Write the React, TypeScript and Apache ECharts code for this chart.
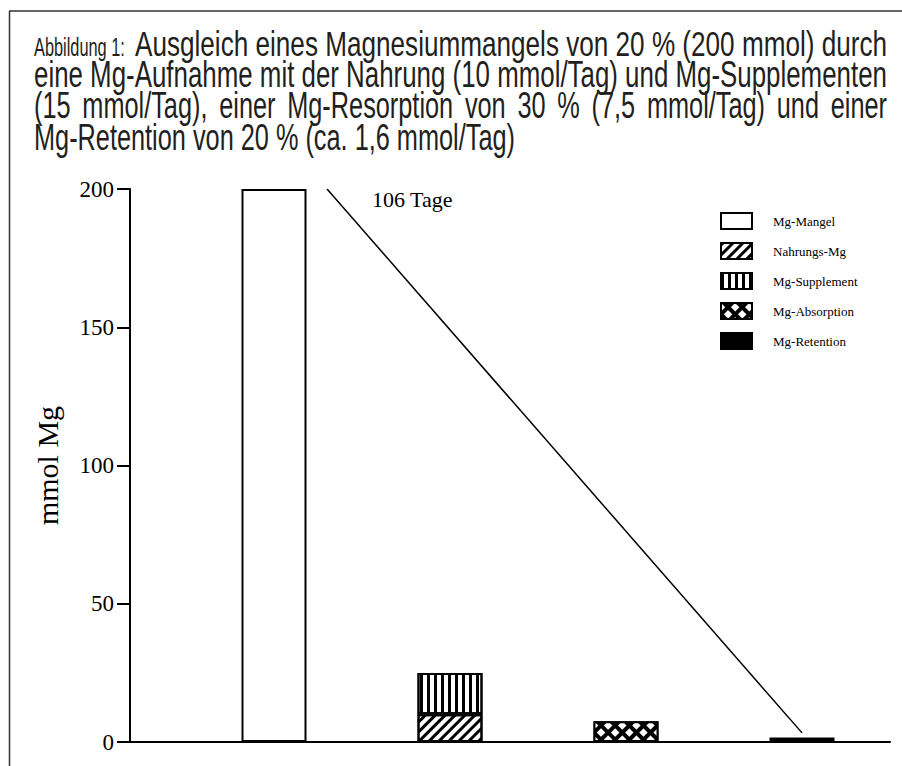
import React, { useEffect, useRef } from 'react';
import * as echarts from 'echarts';

const titleCaption = 'Abbildung 1:';
const titleLines = [
  'Ausgleich eines Magnesiummangels von 20 % (200 mmol) durch',
  'eine Mg-Aufnahme mit der Nahrung (10 mmol/Tag) und Mg-Supplementen',
  '(15 mmol/Tag), einer Mg-Resorption von 30 % (7,5 mmol/Tag) und einer',
  'Mg-Retention von 20 % (ca. 1,6 mmol/Tag)',
];
const categories = ['Mangel', 'Aufnahme', 'Absorption', 'Retention'];
const seriesNames = ['Mg-Mangel', 'Nahrungs-Mg', 'Mg-Supplement', 'Mg-Absorption', 'Mg-Retention'];
const seriesCategory = [0, 1, 1, 2, 3];
const barValues = [200, 10, 15, 7.5, 1.6];
const barStacks = ['a', 'b', 'b', 'c', 'd'];
const yTickInterval = 50;
const yMax = 200;
const lineX = [1.3, 4.0];
const lineY = [200, 3.3];
const lineLabel = '106 Tage';
const yAxisName = 'mmol Mg';

const SANS = '"Liberation Sans", Arial, sans-serif';
const SERIF = '"Liberation Serif", "Times New Roman", serif';

const decals: any[] = [
  null,
  { symbol: 'rect', color: '#000', dashArrayX: [1, 0], dashArrayY: [3, 4], rotation: -Math.PI / 4 },
  { symbol: 'rect', color: '#000', dashArrayX: [3, 4], dashArrayY: [5, 0], rotation: 0 },
  { symbol: 'rect', color: '#fff', dashArrayX: [5.5, 3.5], dashArrayY: [5.5, 3.5], rotation: Math.PI / 4 },
  null,
];
const fills = ['#fff', '#fff', '#fff', '#000', '#000'];

export default function App() {
  const ref = useRef<HTMLDivElement>(null);
  useEffect(() => {
    const el = ref.current!;
    const chart = echarts.init(el, null, { renderer: 'svg' });

    const canvas = document.createElement('canvas');
    const ctx = canvas.getContext('2d')!;
    const measure = (t: string, size: number) => {
      ctx.font = `${size}px "Liberation Sans"`;
      return ctx.measureText(t).width;
    };
    const MAIN = 36;
    const CAP = 26;
    const k = 0.3465;
    const left = 34;
    const right = 887;
    const baselines = [56, 87, 118, 150];
    const fill = '#231f20';
    const mid = (b: number, size: number) => b - k * size;

    const graphics: any[] = [];
    graphics.push({ type: 'line', shape: { x1: 9, y1: 11, x2: 902, y2: 11 }, style: { stroke: '#333', lineWidth: 1.5 }, silent: true });
    graphics.push({ type: 'line', shape: { x1: 9.5, y1: 11, x2: 9.5, y2: 766 }, style: { stroke: '#333', lineWidth: 1.5 }, silent: true });

    const capEnd = 125;
    const restStart = 135;
    const sCap = (capEnd - left) / measure(titleCaption, CAP);
    const s1 = (right - restStart) / measure(titleLines[0], MAIN);
    graphics.push({ type: 'text', x: left, y: mid(baselines[0], CAP), scaleX: sCap, style: { text: titleCaption, font: `${CAP}px ${SANS}`, fill, verticalAlign: 'middle' } });
    graphics.push({ type: 'text', x: restStart, y: mid(baselines[0], MAIN), scaleX: s1, style: { text: titleLines[0], font: `${MAIN}px ${SANS}`, fill, verticalAlign: 'middle' } });
    const s2 = (right - left) / measure(titleLines[1], MAIN);
    graphics.push({ type: 'text', x: left, y: mid(baselines[1], MAIN), scaleX: s2, style: { text: titleLines[1], font: `${MAIN}px ${SANS}`, fill, verticalAlign: 'middle' } });
    const line4End = 515;
    const s4 = (line4End - left) / measure(titleLines[3], MAIN);
    graphics.push({ type: 'text', x: left, y: mid(baselines[3], MAIN), scaleX: s4, style: { text: titleLines[3], font: `${MAIN}px ${SANS}`, fill, verticalAlign: 'middle' } });
    const s3 = Math.min(s2, s4);
    const words = titleLines[2].split(' ');
    const ws = words.map((w) => measure(w, MAIN) * s3);
    const gap = (right - left - ws.reduce((a, b) => a + b, 0)) / (words.length - 1);
    let cx = left;
    words.forEach((w, i) => {
      graphics.push({ type: 'text', x: cx, y: mid(baselines[2], MAIN), scaleX: s3, style: { text: w, font: `${MAIN}px ${SANS}`, fill, verticalAlign: 'middle' } });
      cx += ws[i] + gap;
    });

    graphics.push({ type: 'text', x: 372, y: 207 - 0.3375 * 22, style: { text: lineLabel, font: `22px ${SERIF}`, fill: '#000', verticalAlign: 'middle' } });

    const barSeries = seriesNames.map((name, i) => ({
      name,
      type: 'bar',
      xAxisIndex: 1,
      yAxisIndex: 1,
      data: categories.map((_, c) => (c === seriesCategory[i] ? barValues[i] : '-')),
      barWidth: 65,
      barGap: '-100%',
      stack: barStacks[i],
      itemStyle: {
        color: fills[i],
        borderColor: '#000',
        borderWidth: 2,
        decal: decals[i] || undefined,
      },
      silent: true,
    }));

    const option: any = {
      animation: false,
      grid: [
        { left: 130, top: 189, right: 12, bottom: 24, containLabel: false },
        { left: 186, top: 189, right: 12, bottom: 24, containLabel: false },
      ],
      legend: {
        data: seriesNames,
        orient: 'vertical',
        left: 715,
        top: 207,
        itemWidth: 31,
        itemHeight: 16,
        itemGap: 12,
        icon: 'rect',
        selectedMode: false,
        textStyle: { fontFamily: SERIF, fontSize: 13, color: '#000', padding: [0, 0, 0, 16] },
      },
      xAxis: [
        {
          type: 'value',
          gridIndex: 0,
          min: 0.18,
          max: 4.5,
          axisLine: { show: true, lineStyle: { color: '#000', width: 2 } },
          axisTick: { show: false },
          axisLabel: { show: false },
          splitLine: { show: false },
        },
        {
          type: 'category',
          gridIndex: 1,
          data: categories,
          show: false,
        },
      ],
      yAxis: [
        {
          type: 'value',
          gridIndex: 0,
          min: 0,
          max: yMax,
          interval: yTickInterval,
          name: yAxisName,
          nameLocation: 'middle',
          nameGap: 68,
          nameTextStyle: { fontFamily: SERIF, fontSize: 30, color: '#000' },
          axisLine: { show: true, lineStyle: { color: '#000', width: 2 } },
          axisTick: { show: true, length: 13, lineStyle: { color: '#000', width: 2 } },
          axisLabel: { margin: 16, fontFamily: SERIF, fontSize: 23, color: '#000' },
          splitLine: { show: false },
        },
        {
          type: 'value',
          gridIndex: 1,
          min: 0,
          max: yMax,
          show: false,
          splitLine: { show: false },
        },
      ],
      series: [
        ...barSeries,
        {
          name: 'Tage',
          type: 'line',
          xAxisIndex: 0,
          yAxisIndex: 0,
          data: lineX.map((x, i) => [x, lineY[i]]),
          symbol: 'none',
          lineStyle: { color: '#000', width: 1.5 },
          silent: true,
          z: 5,
        },
      ],
      graphic: graphics,
    };
    chart.setOption(option);
    return () => chart.dispose();
  }, []);
  return <div ref={ref} style={{ position: 'fixed', left: 0, top: 0, width: 902, height: 766, background: '#fff' }} />;
}
